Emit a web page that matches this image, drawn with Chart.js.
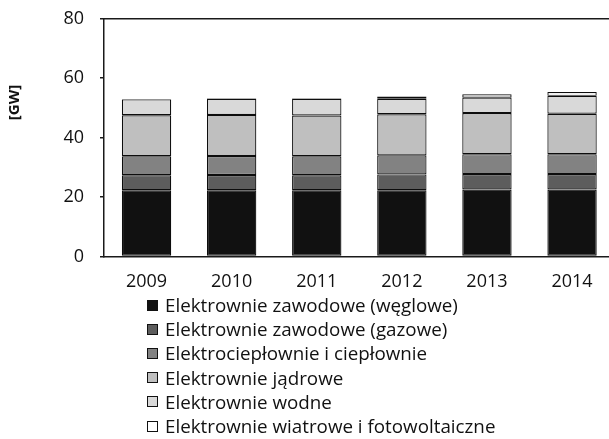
<!DOCTYPE html>
<html>
<head>
<meta charset="utf-8">
<script src="https://cdn.jsdelivr.net/npm/chart.js@4"></script>
<style>
    body { margin: 0; background: #fff; width: 609px; height: 439px; overflow: hidden; position: relative; font-family: 'Open Sans', sans-serif; }
    #wrap { position: absolute; left: 0; top: 0; width: 609px; height: 300px; overflow: hidden; }
    #legend { position: absolute; left: 147px; top: 293px; font-size: 18.8px; color: #111; }
    .item { display: flex; align-items: center; height: 24.2px; white-space: nowrap; }
    .box { width: 9px; height: 9px; border: 1px solid #111; margin-right: 7px; }
</style>
</head>
<body>
<div id="wrap"><canvas id="chart" width="616" height="300"></canvas></div>
<div id="legend"></div>
<script>
// dane [GW]
const years = ['2009', '2010', '2011', '2012', '2013', '2014'];
const coal = [22.3, 22.3, 22.3, 22.3, 22.5, 22.5];
const gas = [5.0, 5.1, 5.0, 5.3, 5.2, 5.2];
const chp = [6.4, 6.4, 6.4, 6.4, 6.7, 6.7];
const nuclear = [13.8, 13.8, 13.7, 13.8, 13.8, 13.6];
const hydro = [5.3, 5.4, 5.6, 5.2, 5.2, 6.0];
const wind = [0.1, 0.2, 0.2, 0.8, 1.1, 1.3];
const yTicks = [0, 20, 40, 60, 80];

const seriesNames = [
    'Elektrownie zawodowe (węglowe)',
    'Elektrownie zawodowe (gazowe)',
    'Elektrociepłownie i ciepłownie',
    'Elektrownie jądrowe',
    'Elektrownie wodne',
    'Elektrownie wiatrowe i fotowoltaiczne'
];
const seriesData = [coal, gas, chp, nuclear, hydro, wind];
const seriesColors = ['#111111', '#5d5d5d', '#828282', '#bfbfbf', '#d9d9d9', '#ffffff'];

const axisColor = '#1a1a1a';

// tytuł osi Y narysowany ręcznie (przesunięty w górę jak w oryginale)
const yTitlePlugin = {
    id: 'yTitle',
    afterDraw(chart) {
        const ctx = chart.ctx;
        ctx.save();
        ctx.translate(15, 102.5);
        ctx.rotate(-Math.PI / 2);
        ctx.font = "bold 15px 'Open Sans'";
        ctx.fillStyle = '#111';
        ctx.textAlign = 'center';
        ctx.textBaseline = 'middle';
        ctx.fillText('[GW]', 0, 0);
        ctx.restore();
    }
};

const chart = new Chart(document.getElementById('chart'), {
    type: 'bar',
    data: {
        labels: years,
        datasets: seriesNames.map((name, i) => ({
            label: name,
            data: seriesData[i],
            backgroundColor: seriesColors[i],
            borderColor: '#0d0d0d',
            borderWidth: 1.2,
            borderSkipped: false,
            categoryPercentage: 1,
            barPercentage: 0.58
        }))
    },
    options: {
        responsive: false,
        animation: false,
        layout: { padding: { top: 18.5, right: 1.4, bottom: 0, left: 0 } },
        plugins: {
            legend: { display: false },
            tooltip: { enabled: false }
        },
        scales: {
            x: {
                stacked: true,
                grid: { display: false, drawTicks: false },
                border: { display: true, color: axisColor, width: 1.5 },
                ticks: { color: '#111', padding: 15, font: { family: "'Open Sans'", size: 18 } },
                afterFit: (scale) => { scale.height = 43.5; scale.paddingLeft = 0; scale.paddingRight = 0; }
            },
            xTop: {
                position: 'top',
                grid: { display: false, drawTicks: false },
                border: { display: true, color: axisColor, width: 1.5 },
                ticks: { display: false },
                afterFit: (scale) => { scale.height = 0; }
            },
            y: {
                stacked: true,
                min: 0,
                max: 80,
                afterBuildTicks: (scale) => { scale.ticks = yTicks.map(v => ({ value: v })); },
                grid: { drawOnChartArea: false, drawTicks: true, tickLength: 4, color: axisColor, lineWidth: 1.5 },
                border: { display: true, color: axisColor, width: 1.5 },
                ticks: { color: '#111', padding: 16, font: { family: "'Open Sans'", size: 18 } },
                afterFit: (scale) => { scale.width = 104; scale.paddingTop = 0; scale.paddingBottom = 0; }
            }
        }
    },
    plugins: [yTitlePlugin]
});

// legenda HTML w jednej kolumnie
const legendEl = document.getElementById('legend');
chart.data.datasets.forEach(ds => {
    const item = document.createElement('div');
    item.className = 'item';
    const box = document.createElement('span');
    box.className = 'box';
    box.style.background = ds.backgroundColor;
    const txt = document.createElement('span');
    txt.textContent = ds.label;
    item.appendChild(box);
    item.appendChild(txt);
    legendEl.appendChild(item);
});
</script>
</body>
</html>
